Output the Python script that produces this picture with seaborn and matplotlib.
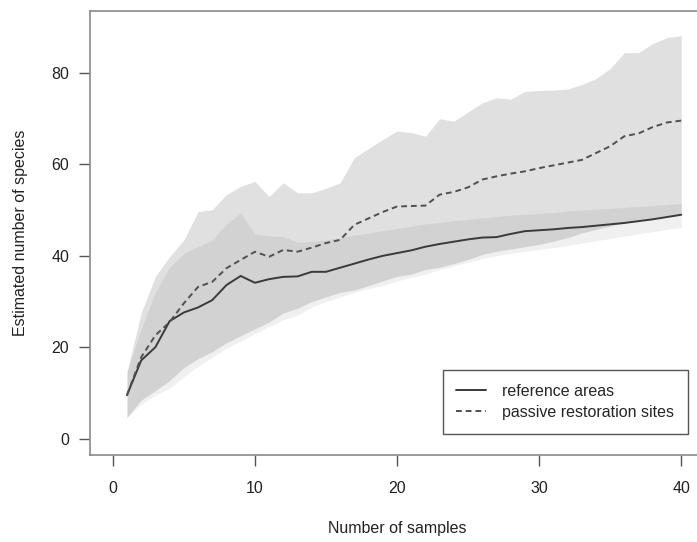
import numpy as np
import pandas as pd
import matplotlib
matplotlib.use("Agg")
import matplotlib.pyplot as plt
import seaborn as sns

# --- DATA ---
samples = list(range(1, 41))

ref_mean = [9.5, 17.1, 20.0, 25.7, 27.6, 28.7, 30.3, 33.6, 35.6, 34.1,
            34.9, 35.4, 35.5, 36.5, 36.5, 37.4, 38.3, 39.2, 40.0, 40.6,
            41.2, 42.0, 42.6, 43.1, 43.6, 44.0, 44.1, 44.8, 45.4, 45.6,
            45.8, 46.1, 46.3, 46.6, 46.9, 47.2, 47.6, 48.0, 48.5, 49.0]
ref_lo = [4.6, 7.5, 9.5, 11.0, 13.5, 15.8, 17.8, 19.8, 21.3, 23.0,
          24.5, 26.0, 27.0, 28.8, 30.0, 31.0, 32.0, 32.8, 33.5, 34.5,
          35.3, 36.0, 37.0, 37.8, 38.6, 39.4, 40.0, 40.5, 41.0, 41.4,
          41.8, 42.3, 42.8, 43.3, 43.8, 44.3, 44.8, 45.3, 45.8, 46.2]
ref_hi = [14.6, 24.0, 32.0, 37.5, 40.5, 42.0, 43.5, 47.0, 49.4, 44.8,
          44.4, 44.2, 43.0, 43.2, 43.5, 44.0, 44.5, 45.0, 45.5, 46.0,
          46.5, 47.0, 47.3, 47.7, 48.0, 48.3, 48.6, 48.9, 49.1, 49.3,
          49.5, 49.8, 50.0, 50.2, 50.4, 50.6, 50.8, 51.0, 51.2, 51.5]

pas_mean = [9.5, 17.8, 22.6, 25.5, 29.6, 33.2, 34.3, 37.3, 39.1, 40.9,
            39.8, 41.3, 40.9, 41.8, 42.8, 43.5, 46.8, 48.2, 49.6, 50.8,
            50.9, 51.0, 53.4, 54.0, 55.0, 56.7, 57.4, 58.0, 58.5, 59.2,
            59.8, 60.4, 61.0, 62.5, 64.0, 66.2, 66.8, 68.2, 69.2, 69.6]
pas_lo = [4.6, 8.4, 10.5, 12.7, 15.5, 17.5, 19.0, 21.0, 22.5, 24.0,
          25.5, 27.5, 28.5, 30.0, 31.0, 32.0, 32.5, 33.5, 34.5, 35.5,
          36.0, 37.0, 37.5, 38.3, 39.2, 40.3, 41.0, 41.5, 42.0, 42.5,
          43.2, 44.0, 45.0, 45.8, 46.5, 47.2, 47.8, 48.3, 48.8, 49.2]
pas_hi = [14.6, 27.5, 35.5, 39.8, 43.5, 49.7, 50.1, 53.4, 55.2, 56.3,
          53.0, 56.0, 53.8, 53.8, 54.8, 56.0, 61.5, 63.5, 65.5, 67.3,
          67.0, 66.2, 70.0, 69.5, 71.5, 73.5, 74.6, 74.3, 76.0, 76.2,
          76.3, 76.5, 77.5, 78.8, 81.0, 84.5, 84.5, 86.5, 87.8, 88.2]

df = pd.DataFrame({
    "samples": samples * 2,
    "species": ref_mean + pas_mean,
    "site": ["reference areas"] * 40 + ["passive restoration sites"] * 40,
})

# --- PLOTTING ---
sns.set_style("white")
plt.rcParams["font.family"] = ["Liberation Sans", "DejaVu Sans"]

fig = plt.figure(figsize=(6.97, 5.42), dpi=100)
ax = fig.add_axes([90 / 697, 87 / 542, 614 / 697, 444 / 542])

# confidence bands
ax.fill_between(samples, pas_lo, pas_hi, color="black", alpha=0.12, lw=0)
ax.fill_between(samples, ref_lo, ref_hi, color="black", alpha=0.06, lw=0)

sns.lineplot(
    data=df, x="samples", y="species", style="site", hue="site",
    palette={"reference areas": "#3a3a3a", "passive restoration sites": "#505050"},
    dashes={"reference areas": "", "passive restoration sites": (3, 2)},
    linewidth=1.4, ax=ax,
)

ax.set_xlim(-1.6, 41.6)
ax.set_ylim(-3.6, 93.6)
ax.set_xticks([0, 10, 20, 30, 40])
ax.set_yticks([0, 20, 40, 60, 80])
ax.tick_params(axis="both", which="both", length=8, width=1, color="#555555",
               labelsize=11.5, labelcolor="#222222", left=True, bottom=True)
ax.tick_params(axis="x", pad=11)
ax.tick_params(axis="y", pad=7)

for side, sp in ax.spines.items():
    sp.set_color("#8a8a8a")
    sp.set_linewidth(1.2)

ax.set_xlabel("Number of samples", fontsize=11.5, color="#222222", labelpad=18)
ax.set_ylabel("Estimated number of species", fontsize=11.5, color="#222222", labelpad=17)

handles, labels = ax.get_legend_handles_labels()
ax.legend(handles, labels, loc="upper right",
          bbox_to_anchor=(688 / 697, 1 - 370 / 542), bbox_transform=fig.transFigure,
          frameon=True, fancybox=False, edgecolor="#555555", framealpha=1,
          fontsize=11.5, handlelength=1.9, handletextpad=1.0,
          labelspacing=0.4, borderpad=0.85, borderaxespad=0)
ax.get_legend().get_frame().set_linewidth(1.0)

fig.savefig("out.png", dpi=100)
